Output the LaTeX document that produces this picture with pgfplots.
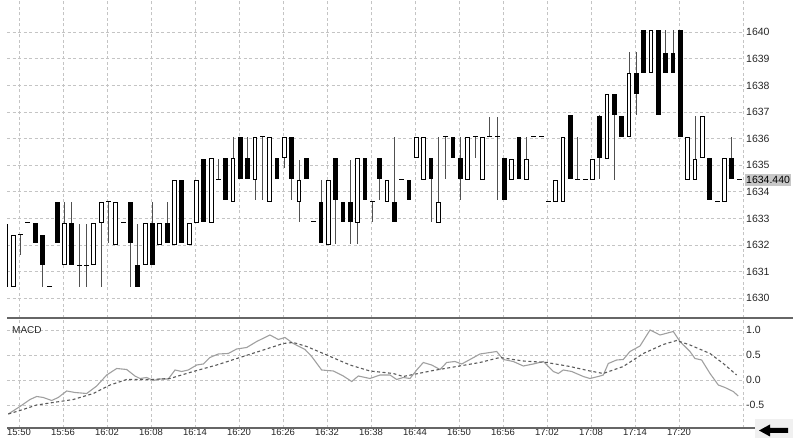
\documentclass[border=0pt]{standalone}
\usepackage{fontspec}
\setmainfont{Liberation Sans}
\usepackage{pgfplots}
\pgfplotsset{compat=1.18}
\usepackage{pgfplotstable}
\definecolor{gridc}{HTML}{C4C4C4}
\definecolor{wickc}{HTML}{505050}
\definecolor{macdc}{HTML}{A0A0A0}
\definecolor{sigc}{HTML}{5A5A5A}
\definecolor{sepc}{HTML}{666666}
\definecolor{labc}{HTML}{262626}

% minute index from 15:50, open high low close
\pgfplotstableread{
m o h l c
-2 1630.44 1632.82 1630.44 1632.82
-1 1630.44 1632.38 1630.44 1632.38
0 1632.38 1632.38 1631.63 1632.38
1 1632.84 1632.84 1632.84 1632.84
2 1632.84 1632.84 1632.07 1632.07
3 1632.38 1632.38 1630.44 1631.25
4 1630.44 1630.44 1630.44 1630.44
5 1633.63 1633.63 1632.07 1632.07
6 1631.25 1633.63 1631.25 1632.84
7 1632.84 1633.63 1631.25 1631.25
8 1631.25 1632.82 1630.44 1631.25
9 1631.25 1632.82 1630.44 1631.25
10 1631.25 1632.84 1631.25 1632.84
11 1632.84 1633.63 1630.44 1633.63
12 1633.63 1633.63 1632.07 1633.63
13 1632.00 1633.63 1632.00 1633.63
14 1632.84 1632.84 1632.84 1632.84
15 1633.63 1633.63 1630.44 1632.07
16 1631.25 1632.82 1630.44 1630.44
17 1631.25 1632.84 1631.25 1632.84
18 1632.84 1633.63 1631.25 1631.25
19 1632.00 1632.84 1632.00 1632.84
20 1632.84 1633.63 1632.07 1632.07
21 1632.00 1634.45 1632.00 1634.45
22 1634.45 1634.45 1632.07 1632.07
23 1632.00 1632.84 1632.00 1632.84
24 1632.84 1634.45 1632.84 1634.45
25 1635.26 1635.26 1632.88 1632.88
26 1632.84 1635.26 1632.84 1635.26
27 1634.45 1635.26 1634.45 1634.45
28 1635.26 1635.26 1633.70 1633.70
29 1633.63 1636.08 1633.63 1635.26
30 1636.08 1636.08 1634.47 1634.47
31 1635.26 1636.08 1634.47 1634.47
32 1634.45 1636.08 1633.70 1636.08
33 1636.08 1636.08 1633.70 1636.08
34 1633.63 1636.08 1633.63 1636.08
35 1635.26 1635.26 1634.47 1634.47
36 1635.26 1636.08 1634.90 1636.08
37 1636.08 1636.08 1633.70 1634.47
38 1633.63 1635.20 1632.88 1634.45
39 1635.26 1635.26 1634.47 1634.47
40 1632.88 1632.88 1632.88 1632.88
41 1633.63 1634.45 1632.07 1632.07
42 1632.00 1634.45 1632.00 1634.45
43 1635.26 1635.26 1632.07 1633.70
44 1633.63 1633.63 1632.88 1632.88
45 1633.63 1635.20 1632.07 1632.88
46 1632.84 1635.26 1632.07 1635.26
47 1635.26 1635.26 1633.70 1633.70
48 1633.63 1633.63 1632.88 1633.63
49 1635.26 1635.26 1633.70 1634.47
50 1633.63 1634.45 1633.63 1634.45
51 1633.63 1636.08 1632.88 1632.88
52 1634.45 1634.45 1634.45 1634.45
53 1634.45 1634.45 1633.70 1633.70
54 1635.26 1636.08 1635.26 1636.08
55 1634.45 1636.08 1634.45 1636.08
56 1635.26 1635.26 1632.88 1634.47
57 1632.82 1636.08 1632.82 1633.63
58 1636.08 1636.08 1634.47 1636.08
59 1636.08 1636.08 1635.26 1635.26
60 1635.26 1636.08 1633.70 1634.47
61 1634.45 1636.08 1634.45 1636.08
62 1636.08 1636.08 1635.26 1636.08
63 1634.45 1636.08 1634.45 1636.08
64 1636.08 1636.83 1636.08 1636.08
65 1636.08 1636.83 1633.70 1636.08
66 1635.26 1635.26 1633.70 1633.70
67 1634.45 1635.26 1634.45 1635.26
68 1636.08 1636.08 1634.47 1634.47
69 1634.45 1636.08 1634.45 1635.26
70 1636.08 1636.08 1636.08 1636.08
71 1636.08 1636.08 1636.08 1636.08
72 1633.63 1633.63 1633.63 1633.63
73 1633.63 1634.45 1633.63 1634.45
74 1633.63 1636.08 1633.63 1636.08
75 1636.87 1636.87 1634.47 1634.47
76 1634.45 1636.08 1634.45 1634.45
77 1634.45 1634.45 1634.45 1634.45
78 1634.45 1635.26 1634.45 1635.26
79 1636.87 1636.87 1634.47 1635.26
80 1635.26 1637.68 1635.26 1637.68
81 1637.68 1637.68 1634.47 1636.89
82 1636.87 1636.87 1636.08 1636.08
83 1636.08 1639.25 1636.08 1638.48
84 1638.48 1639.25 1636.89 1637.68
85 1640.09 1640.09 1638.48 1638.48
86 1638.48 1640.09 1638.48 1640.09
87 1640.09 1640.09 1636.89 1636.89
88 1639.25 1640.09 1638.48 1638.48
89 1639.25 1640.09 1638.48 1638.48
90 1640.09 1640.09 1636.08 1636.08
91 1634.45 1636.08 1634.45 1636.08
92 1634.45 1636.87 1634.45 1635.26
93 1635.26 1636.87 1635.26 1636.87
94 1635.26 1635.26 1633.70 1633.70
95 1633.63 1633.63 1633.63 1633.63
96 1633.63 1635.26 1633.63 1635.26
97 1635.26 1636.08 1634.47 1634.47
98 1634.45 1634.45 1634.45 1634.45
}\candles

\pgfplotstableread{
m v
-1.66 -0.68
-0.07 -0.53
1.30 -0.39
2.21 -0.33
3.11 -0.35
4.25 -0.41
5.15 -0.35
6.30 -0.22
7.43 -0.25
9.03 -0.27
10.39 -0.12
11.76 0.10
13.12 0.23
14.48 0.21
15.61 0.08
16.30 0.03
17.21 0.05
18.11 -0.01
19.02 0.02
20.16 0.02
21.07 0.20
21.98 0.17
22.88 0.20
24.03 0.30
24.93 0.32
25.84 0.45
26.97 0.52
28.34 0.53
29.48 0.62
30.85 0.65
32.21 0.77
34.02 0.90
35.16 0.81
36.07 0.85
37.20 0.73
38.80 0.61
39.71 0.47
41.07 0.20
42.66 0.18
44.02 0.08
45.17 -0.03
46.07 0.08
47.66 0.03
49.03 0.10
50.39 0.10
51.30 0.01
52.20 0.05
53.12 0.03
54.03 0.20
54.93 0.35
56.07 0.30
57.21 0.21
58.12 0.35
59.25 0.37
60.17 0.32
61.30 0.41
62.66 0.52
64.03 0.55
64.94 0.57
65.84 0.41
67.20 0.37
68.57 0.28
69.93 0.32
71.30 0.37
72.66 0.17
73.34 0.13
74.02 0.20
75.17 0.17
76.75 0.07
77.66 0.03
78.79 0.07
79.48 0.10
80.16 0.33
81.30 0.40
82.20 0.41
83.12 0.57
84.48 0.68
85.85 1.00
87.21 0.90
89.02 0.97
89.93 0.77
91.30 0.57
91.98 0.43
92.89 0.40
94.03 0.13
95.16 -0.10
96.07 -0.15
97.20 -0.23
97.88 -0.32
}\macd

\pgfplotstableread{
m v
-1.66 -0.68
-0.07 -0.61
2.21 -0.50
4.47 -0.45
7.20 -0.39
9.93 -0.27
12.21 -0.10
14.48 0.01
17.66 0.01
20.39 0.03
23.56 0.17
26.76 0.30
29.93 0.45
33.11 0.60
35.84 0.73
37.20 0.75
39.03 0.67
41.76 0.50
44.93 0.30
47.66 0.18
50.84 0.13
52.20 0.07
53.57 0.11
56.29 0.19
59.48 0.27
62.66 0.35
65.39 0.45
68.57 0.38
71.76 0.35
74.93 0.27
77.66 0.18
79.48 0.13
82.20 0.27
84.93 0.53
87.66 0.71
89.48 0.79
91.30 0.70
94.03 0.53
95.84 0.33
97.66 0.10
}\signal

\pgfplotsset{
  panel/.style={
    scale only axis, width=736pt, anchor=south west,
    xmin=-1.84, xmax=98.53,
    axis line style={draw=none}, major tick length=0pt,
    xtick={-0.2,5.8,11.8,17.8,23.8,29.8,35.8,41.8,47.8,53.8,59.8,65.8,71.8,77.8,83.8,89.8},
    yticklabel pos=right,
    yticklabel style={anchor=west, inner sep=0pt, xshift=3pt, text=labc,
      font=\fontsize{10.5}{12}\selectfont},
    grid=major,
    major grid style={gridc, line width=0.8pt, dash pattern=on 3pt off 2.5pt},
  },
  body/.style={draw=none, mark=none, fill=none,
    error bars/y dir=both, error bars/y explicit, error bars/error mark=none},
}

\begin{document}
\begin{tikzpicture}[x=1pt,y=1pt]
\path[use as bounding box] (0pt,0pt) rectangle (793pt,438pt);
\clip (0pt,0pt) rectangle (793pt,438pt);

% price panel
\begin{axis}[panel, at={(7pt,120pt)}, height=318pt,
  ymin=1629.26, ymax=1641.21,
  xticklabels={},
  ytick={1630,1631,1632,1633,1634,1635,1636,1637,1638,1639,1640},
  yticklabels={1630,1631,1632,1633,1634,1635,1636,1637,1638,1639,1640},
]
% wicks
\addplot[body, error bars/error bar style={draw=wickc, line width=1pt}]
  table[x=m, y expr=(\thisrow{h}+\thisrow{l})/2, y error expr=(\thisrow{h}-\thisrow{l})/2] {\candles};
% falling candles: filled
\addplot[body, restrict expr to domain={\thisrow{o}-\thisrow{c}}{0.01:100},
  error bars/error bar style={draw=black, line width=4.7pt}]
  table[x=m, y expr=(\thisrow{o}+\thisrow{c})/2, y error expr=(\thisrow{o}-\thisrow{c})/2] {\candles};
% rising candles: hollow
\addplot[body, restrict expr to domain={\thisrow{c}-\thisrow{o}}{0.01:100},
  error bars/error bar style={draw=black, line width=4.7pt}]
  table[x=m, y expr=(\thisrow{o}+\thisrow{c})/2, y error expr=(\thisrow{c}-\thisrow{o})/2] {\candles};
\addplot[body, restrict expr to domain={\thisrow{c}-\thisrow{o}}{0.1:100},
  error bars/error bar style={draw=white, line width=2.7pt}]
  table[x=m, y expr=(\thisrow{o}+\thisrow{c})/2, y error expr=(\thisrow{c}-\thisrow{o})/2-0.0376] {\candles};
% unchanged candles
\addplot[only marks, mark=-, mark size=2.4pt, mark options={draw=black, line width=1pt},
  restrict expr to domain={abs(\thisrow{c}-\thisrow{o})}{0:0.005}]
  table[x=m, y=c] {\candles};
\coordinate (lastp) at (axis cs:98.53,1634.44);
\end{axis}

% MACD panel
\begin{axis}[panel, at={(7pt,10pt)}, height=110pt,
  ymin=-0.96, ymax=1.24,
  xticklabels={15:50,15:56,16:02,16:08,16:14,16:20,16:26,16:32,16:38,16:44,16:50,16:56,17:02,17:08,17:14,17:20},
  xticklabel style={anchor=north, inner sep=0pt, yshift=-1pt, text=labc,
    font=\fontsize{9.5}{11}\selectfont},
  ytick={-0.5,0,0.5,1},
  yticklabels={-0.5,0.0,0.5,1.0},
]
\addplot[macdc, line width=1.1pt] table[x=m, y=v] {\macd};
\addplot[sigc, line width=1.1pt, dash pattern=on 3pt off 2.5pt] table[x=m, y=v] {\signal};
\end{axis}

% frame details
\draw[gridc, line width=0.8pt, dash pattern=on 3pt off 2.5pt] (743pt,10pt) -- (743pt,438pt);
\draw[sepc, line width=1.8pt] (7pt,120pt) -- (793pt,120pt);
\draw[sepc, line width=1.8pt] (7pt,10pt) -- (755pt,10pt);
\node[anchor=west, inner sep=0pt, text=labc, font=\fontsize{10}{12}\selectfont] at (12pt,108pt) {MACD};
\node[anchor=west, fill=black!22, inner xsep=1pt, inner ysep=2.5pt, text=black,
  font=\fontsize{10.5}{12}\selectfont, xshift=2pt] at (lastp) {1634.440};
% scroll button
\fill[black!6] (755pt,0pt) rectangle (793pt,19pt);
\fill[black] (759pt,7.5pt) -- (770pt,13.5pt) -- (770pt,10pt) -- (788pt,10pt) -- (788pt,5pt) -- (770pt,5pt) -- (770pt,1.5pt) -- cycle;
\end{tikzpicture}
\end{document}
